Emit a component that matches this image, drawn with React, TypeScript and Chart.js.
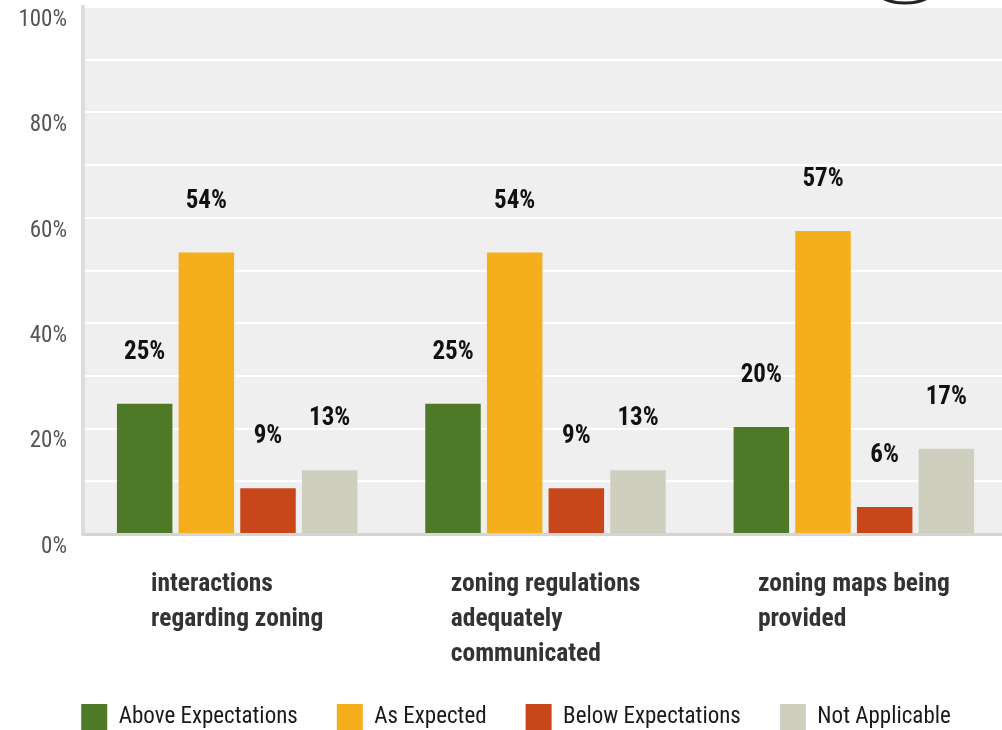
import React, { useEffect, useRef } from 'react';
import { Chart, registerables } from 'chart.js';

Chart.register(...registerables);

const categories: string[][] = [
  ['interactions', 'regarding zoning'],
  ['zoning regulations', 'adequately', 'communicated'],
  ['zoning maps being', 'provided'],
];
const seriesNames = ['Above Expectations', 'As Expected', 'Below Expectations', 'Not Applicable'];
const aboveExpectations = [24.7, 24.7, 20.3];
const asExpected = [53.4, 53.4, 57.5];
const belowExpectations = [8.7, 8.7, 5.1];
const notApplicable = [12.1, 12.1, 16.2];
const aboveLabels = ['25%', '25%', '20%'];
const expectedLabels = ['54%', '54%', '57%'];
const belowLabels = ['9%', '9%', '6%'];
const naLabels = ['13%', '13%', '17%'];
const yTickValues = [0, 20, 40, 60, 80, 100];
const seriesColors = ['#4e7a27', '#f5af1d', '#c8471a', '#cfcfc0'];

const FONT = "'Roboto Condensed', sans-serif";

const bgPlugin = {
  id: 'plotBg',
  beforeDraw(chart: any) {
    const { ctx, chartArea } = chart;
    ctx.save();
    ctx.fillStyle = '#efefef';
    ctx.fillRect(chartArea.left, chartArea.top, chartArea.right - chartArea.left, chartArea.bottom - chartArea.top);
    ctx.restore();
  },
};

const legendShiftPlugin = {
  id: 'legendShift',
  afterLayout(chart: any) {
    const lg = chart.legend;
    if (lg) {
      lg.left += 12;
      lg.right += 12;
    }
  },
};

const valueLabelPlugin = {
  id: 'valueLabels',
  afterDatasetsDraw(chart: any) {
    const { ctx } = chart;
    const labelSets = [aboveLabels, expectedLabels, belowLabels, naLabels];
    ctx.save();
    ctx.font = `bold 25px ${FONT}`;
    ctx.fillStyle = '#111111';
    ctx.textAlign = 'center';
    ctx.textBaseline = 'middle';
    chart.data.datasets.forEach((ds: any, di: number) => {
      const meta = chart.getDatasetMeta(di);
      meta.data.forEach((bar: any, i: number) => {
        ctx.fillText(labelSets[di][i], bar.x, bar.y - 51);
      });
    });
    ctx.restore();
  },
};

const categoryLabelPlugin = {
  id: 'categoryLabels',
  afterDraw(chart: any) {
    const { ctx, scales, chartArea } = chart;
    const x = scales.x;
    ctx.save();
    ctx.font = `bold 25.5px ${FONT}`;
    ctx.fillStyle = '#333333';
    ctx.textAlign = 'left';
    ctx.textBaseline = 'middle';
    (chart.data.labels as string[][]).forEach((lines, i) => {
      const cx = x.getPixelForValue(i);
      const w = Math.max(...lines.map((l) => ctx.measureText(l).width));
      const left = cx - w / 2;
      lines.forEach((line, li) => {
        ctx.fillText(line, left, chartArea.bottom + 51 + li * 35);
      });
    });
    // cropped circle mark at the top edge
    ctx.beginPath();
    ctx.strokeStyle = '#222222';
    ctx.lineWidth = 3;
    ctx.ellipse(905, -14, 32, 17, 0, 0, Math.PI * 2);
    ctx.stroke();
    ctx.restore();
  },
};

export default function App() {
  const ref = useRef<HTMLCanvasElement>(null);
  useEffect(() => {
    if (!ref.current) return;
    const chart = new Chart(ref.current, {
      type: 'bar',
      data: {
        labels: categories as any,
        datasets: [
          { label: seriesNames[0], data: aboveExpectations, backgroundColor: seriesColors[0] },
          { label: seriesNames[1], data: asExpected, backgroundColor: seriesColors[1] },
          { label: seriesNames[2], data: belowExpectations, backgroundColor: seriesColors[2] },
          { label: seriesNames[3], data: notApplicable, backgroundColor: seriesColors[3] },
        ],
      },
      options: {
        animation: false,
        responsive: false,
        devicePixelRatio: 1,
        layout: { padding: { top: 7, right: 4, left: 0, bottom: 0 } },
        plugins: {
          tooltip: { enabled: false },
          legend: {
            position: 'bottom',
            labels: {
              boxWidth: 26,
              boxHeight: 27,
              padding: 39,
              color: '#1a1a1a',
              font: { family: FONT, size: 23 },
            },
          },
        },
        scales: {
          x: {
            grid: { display: false },
            border: { color: '#d4d4d4', width: 3 },
            ticks: { display: false },
            afterFit(scale: any) {
              scale.height = 131;
            },
          },
          y: {
            min: 0,
            max: 100,
            afterBuildTicks(scale: any) {
              const t = [];
              for (let v = 0; v <= 100; v += 10) t.push({ value: v });
              scale.ticks = t;
            },
            grid: {
              drawTicks: false,
              color: (c: any) => (c.tick && c.tick.value === 0 ? 'rgba(0,0,0,0)' : '#ffffff'),
              lineWidth: 2,
            },
            border: { color: '#dcdcdc', width: 4 },
            ticks: {
              padding: 16,
              labelOffset: 13,
              color: '#555555',
              font: { family: FONT, size: 23 },
              callback: (v: any) => (yTickValues.includes(Number(v)) ? `${v}%` : ''),
            },
            afterFit(scale: any) {
              scale.width = 83;
              scale.paddingTop = 0;
              scale.paddingBottom = 0;
            },
          },
        },
      },
      plugins: [bgPlugin, legendShiftPlugin, valueLabelPlugin, categoryLabelPlugin],
    });
    return () => chart.destroy();
  }, []);
  return (
    <div style={{ position: 'fixed', left: 0, top: 0, width: 1002, height: 730, overflow: 'hidden', background: '#ffffff' }}>
      <canvas ref={ref} width={1012} height={741} style={{ display: 'block' }} />
    </div>
  );
}
